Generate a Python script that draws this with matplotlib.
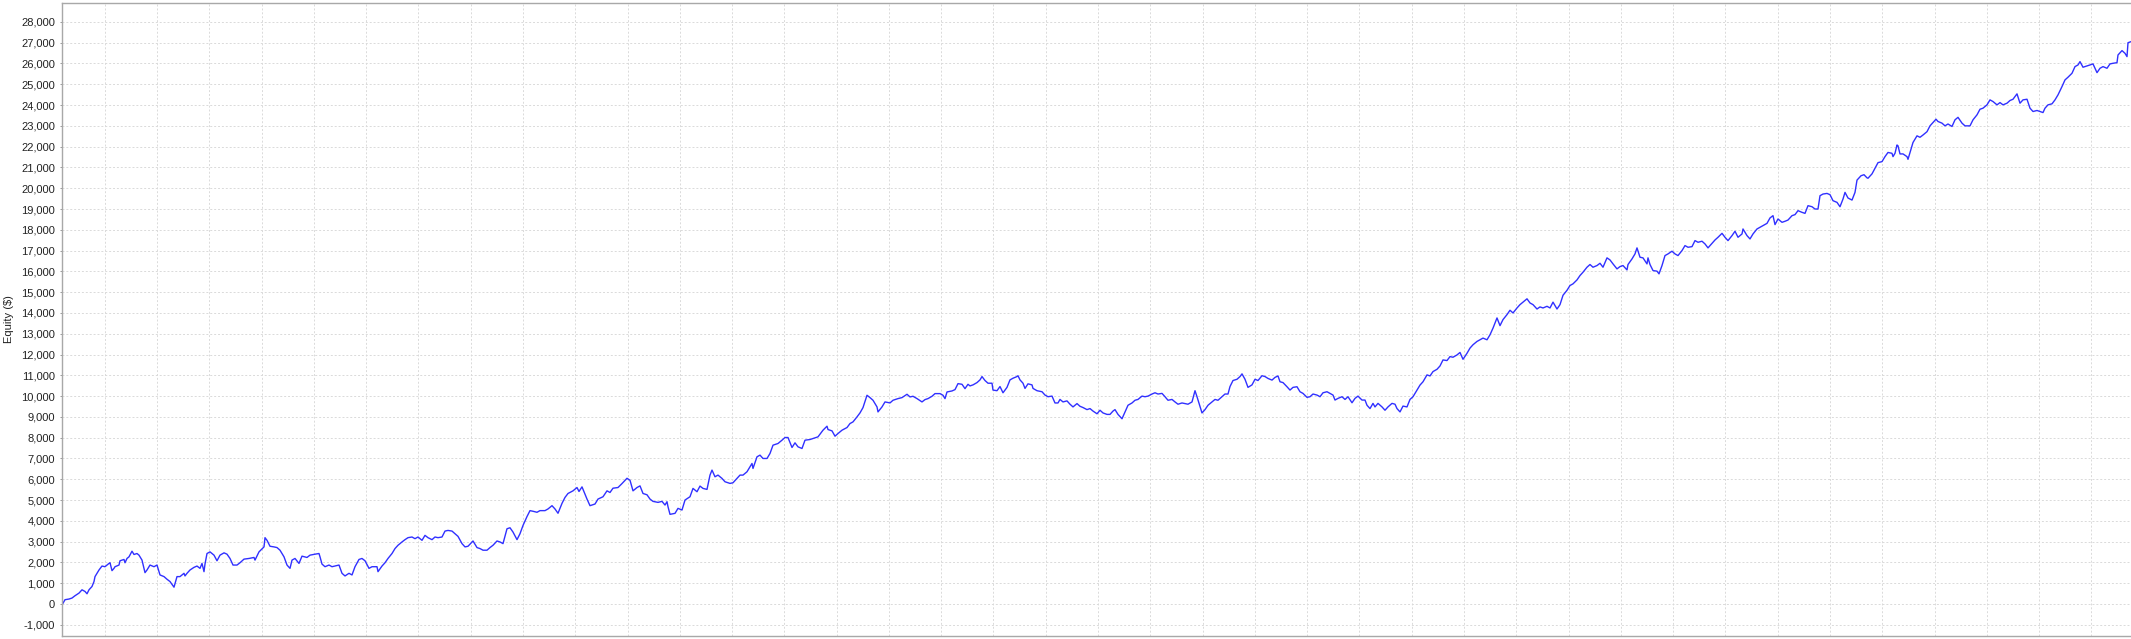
import matplotlib
matplotlib.use("Agg")
import matplotlib.pyplot as plt
import matplotlib.ticker as tkr
import numpy as np

# equity curve (trade number, equity in $)
trade_no = [
    0, 3, 7, 10, 13, 17, 20, 23, 25, 27, 30, 32, 33, 37, 40, 43, 47, 48, 50, 52,
    53, 57, 58, 62, 63, 65, 67, 70, 72, 75, 77, 80, 83, 85, 88, 92, 95, 98, 102, 105,
    108, 112, 115, 118, 122, 123, 125, 128, 132, 135, 138, 140, 142, 143, 145, 148, 152, 155, 158, 162,
    165, 168, 171, 175, 178, 182, 187, 192, 193, 197, 202, 203, 205, 208, 212, 215, 218, 222, 225, 228,
    230, 233, 237, 240, 245, 248, 253, 257, 258, 260, 263, 267, 270, 273, 277, 280, 283, 287, 290, 293,
    297, 300, 303, 307, 310, 315, 316, 320, 323, 326, 330, 333, 336, 340, 343, 346, 350, 353, 356, 360,
    363, 366, 370, 373, 376, 380, 383, 386, 390, 393, 396, 400, 403, 406, 411, 415, 418, 421, 425, 428,
    431, 435, 438, 441, 445, 448, 451, 455, 458, 461, 465, 468, 471, 475, 478, 483, 486, 490, 493, 496,
    500, 503, 506, 511, 515, 517, 520, 523, 525, 528, 533, 536, 541, 545, 548, 551, 556, 560, 565, 568,
    571, 575, 578, 581, 585, 588, 591, 596, 600, 603, 605, 606, 608, 613, 616, 620, 623, 628, 631, 635,
    638, 641, 645, 648, 650, 653, 656, 660, 663, 668, 671, 675, 678, 681, 685, 688, 690, 691, 695, 698,
    701, 705, 708, 711, 716, 720, 723, 726, 730, 733, 736, 740, 743, 748, 751, 756, 761, 765, 766, 770,
    773, 776, 780, 785, 788, 791, 795, 798, 801, 805, 808, 811, 815, 816, 820, 823, 828, 831, 836, 840,
    845, 848, 851, 855, 860, 863, 866, 870, 873, 878, 881, 883, 885, 890, 893, 896, 900, 903, 906, 908,
    911, 915, 918, 920, 923, 926, 930, 931, 935, 938, 941, 945, 948, 951, 955, 956, 958, 961, 963, 966,
    970, 971, 975, 980, 983, 986, 990, 993, 996, 998, 1001, 1005, 1008, 1011, 1015, 1018, 1021, 1025, 1028, 1031,
    1035, 1038, 1041, 1045, 1048, 1051, 1053, 1056, 1060, 1063, 1066, 1070, 1073, 1076, 1080, 1083, 1086, 1090, 1093, 1096,
    1100, 1103, 1106, 1110, 1113, 1116, 1120, 1123, 1126, 1130, 1133, 1135, 1138, 1140, 1143, 1146, 1150, 1153, 1156, 1160,
    1163, 1166, 1168, 1171, 1175, 1178, 1180, 1183, 1186, 1190, 1193, 1196, 1200, 1203, 1206, 1210, 1213, 1216, 1218, 1221,
    1225, 1228, 1231, 1235, 1238, 1241, 1245, 1248, 1251, 1255, 1258, 1261, 1265, 1268, 1271, 1273, 1276, 1280, 1283, 1286,
    1290, 1293, 1296, 1300, 1303, 1305, 1308, 1311, 1313, 1316, 1320, 1323, 1326, 1330, 1333, 1335, 1338, 1341, 1345, 1348,
    1351, 1355, 1358, 1361, 1365, 1368, 1371, 1375, 1378, 1381, 1385, 1388, 1391, 1395, 1398, 1401, 1405, 1408, 1411, 1415,
    1418, 1421, 1425, 1428, 1431, 1435, 1438, 1441, 1445, 1448, 1451, 1455, 1458, 1461, 1465, 1468, 1471, 1475, 1478, 1481,
    1485, 1488, 1491, 1495, 1498, 1501, 1505, 1508, 1511, 1515, 1518, 1521, 1525, 1528, 1531, 1535, 1538, 1541, 1545, 1548,
    1551, 1555, 1558, 1561, 1565, 1566, 1570, 1573, 1575, 1578, 1581, 1585, 1586, 1588, 1591, 1595, 1597, 1600, 1603, 1606,
    1610, 1613, 1616, 1620, 1623, 1626, 1630, 1633, 1636, 1640, 1643, 1646, 1650, 1653, 1656, 1660, 1663, 1666, 1670, 1673,
    1676, 1680, 1681, 1685, 1688, 1691, 1695, 1698, 1701, 1705, 1708, 1711, 1713, 1716, 1720, 1723, 1726, 1730, 1733, 1736,
    1740, 1743, 1746, 1750, 1753, 1756, 1758, 1761, 1765, 1768, 1771, 1775, 1778, 1781, 1783, 1786, 1790, 1793, 1795, 1799,
    1802, 1805, 1806, 1810, 1813, 1816, 1820, 1823, 1826, 1830, 1831, 1833, 1835, 1836, 1838, 1841, 1845, 1846, 1848, 1851,
    1855, 1858, 1861, 1865, 1868, 1871, 1874, 1876, 1880, 1883, 1886, 1890, 1893, 1896, 1900, 1903, 1908, 1911, 1915, 1918,
    1921, 1925, 1928, 1931, 1935, 1938, 1941, 1945, 1948, 1951, 1955, 1958, 1961, 1965, 1968, 1971, 1975, 1978, 1981, 1983,
    1986, 1990, 1993, 1996, 2000, 2003, 2006, 2010, 2013, 2016, 2018, 2021, 2025, 2028, 2031, 2035, 2038, 2041, 2045, 2048,
    2051, 2055, 2056, 2060, 2063, 2065, 2066, 2069,
]
equity = [
    -50, 206, 238, 286, 397, 524, 682, 603, 492, 682, 841, 1079, 1317, 1635, 1825, 1793, 1952, 1984, 1603, 1714,
    1793, 1873, 2079, 2142, 1984, 2190, 2269, 2539, 2381, 2428, 2349, 2111, 1508, 1635, 1873, 1793, 1873, 1397, 1317, 1190,
    1079, 809, 1317, 1317, 1476, 1349, 1476, 1635, 1762, 1825, 1714, 1952, 1555, 1920, 2428, 2507, 2349, 2079, 2349, 2460,
    2396, 2190, 1873, 1873, 1984, 2158, 2190, 2238, 2111, 2507, 2746, 3190, 3063, 2777, 2746, 2714, 2587, 2269, 1873, 1714,
    2111, 2190, 1952, 2301, 2238, 2349, 2396, 2428, 2269, 1920, 1793, 1873, 1793, 1825, 1873, 1476, 1349, 1476, 1397, 1793,
    2142, 2190, 2079, 1714, 1793, 1793, 1555, 1825, 1984, 2190, 2428, 2666, 2825, 2984, 3095, 3190, 3222, 3142, 3222, 3063,
    3301, 3190, 3095, 3222, 3190, 3222, 3507, 3539, 3507, 3380, 3253, 2904, 2746, 2777, 3031, 2714, 2666, 2587, 2587, 2714,
    2825, 3031, 2984, 2904, 3619, 3666, 3460, 3095, 3380, 3777, 4206, 4491, 4460, 4412, 4491, 4491, 4571, 4729, 4571, 4364,
    4840, 5126, 5316, 5443, 5602, 5412, 5634, 5285, 5047, 4729, 4809, 5047, 5158, 5443, 5364, 5570, 5602, 5793, 6047, 5952,
    5443, 5602, 5681, 5316, 5253, 5047, 4936, 4888, 4936, 4760, 4920, 4680, 4312, 4360, 4600, 4520, 5000, 5160, 5560, 5400,
    5672, 5560, 5512, 6200, 6440, 6120, 6200, 6040, 5880, 5800, 5832, 6040, 6200, 6200, 6360, 6600, 6760, 6520, 7080, 7160,
    7000, 7000, 7240, 7640, 7720, 7880, 8008, 8008, 7528, 7752, 7560, 7480, 7880, 7912, 7960, 8040, 8360, 8552, 8392, 8328,
    8072, 8200, 8360, 8488, 8680, 8760, 9000, 9192, 9448, 10040, 9928, 9800, 9480, 9240, 9480, 9720, 9672, 9800, 9880, 9928,
    10088, 9960, 9992, 9880, 9720, 9832, 9880, 9992, 10120, 10120, 10040, 9880, 10200, 10248, 10312, 10600, 10568, 10360, 10568, 10490,
    10540, 10650, 10780, 10940, 10750, 10620, 10620, 10290, 10260, 10460, 10160, 10420, 10780, 10860, 10940, 10980, 10780, 10620, 10370, 10590,
    10540, 10370, 10260, 10210, 10050, 9970, 10000, 9670, 9670, 9840, 9720, 9770, 9610, 9480, 9640, 9510, 9450, 9350, 9400, 9280,
    9150, 9320, 9190, 9120, 9120, 9280, 9350, 9120, 8910, 9240, 9560, 9670, 9800, 9840, 10000, 9970, 10000, 10100, 10160, 10100,
    10130, 9970, 9800, 9840, 9720, 9610, 9670, 9640, 9610, 9720, 10260, 9970, 9510, 9190, 9350, 9560, 9720, 9840, 9800, 9970,
    10100, 10100, 10460, 10750, 10810, 10940, 11070, 10810, 10420, 10540, 10810, 10750, 10980, 10940, 10850, 10770, 10900, 10970, 10690, 10650,
    10450, 10290, 10420, 10450, 10210, 10130, 9940, 9970, 10100, 10050, 9970, 10160, 10210, 10130, 10050, 9810, 9890, 9970, 9840, 9970,
    9680, 9890, 10000, 9810, 9810, 9560, 9400, 9650, 9480, 9650, 9480, 9320, 9480, 9650, 9610, 9400, 9240, 9520, 9480, 9840,
    9970, 10290, 10530, 10690, 11020, 10970, 11180, 11290, 11450, 11740, 11710, 11900, 11870, 11980, 12100, 11770, 12060, 12310, 12470, 12630,
    12710, 12790, 12710, 12950, 13270, 13760, 13390, 13680, 13920, 14130, 14000, 14240, 14400, 14520, 14680, 14480, 14400, 14190, 14290, 14240,
    14320, 14240, 14520, 14190, 14400, 14850, 15090, 15320, 15400, 15590, 15800, 15960, 16200, 16330, 16200, 16280, 16390, 16200, 16650, 16550,
    16360, 16120, 16230, 16280, 16070, 16330, 16600, 16840, 17130, 16680, 16650, 16360, 16650, 16330, 16040, 16010, 15880, 16280, 16760, 16840,
    16970, 16840, 16760, 17000, 17240, 17160, 17190, 17480, 17400, 17450, 17320, 17130, 17350, 17510, 17640, 17830, 17640, 17480, 17720, 17930,
    17640, 17800, 18040, 17720, 17560, 17800, 18040, 18120, 18200, 18310, 18570, 18680, 18250, 18520, 18360, 18410, 18470, 18680, 18730, 18920,
    18840, 18790, 19160, 19110, 19000, 19000, 19640, 19720, 19750, 19690, 19400, 19320, 19110, 19480, 19800, 19530, 19430, 19800, 20390, 20600,
    20650, 20500, 20480, 20690, 20960, 21230, 21280, 21520, 21720, 21680, 21520, 21680, 22080, 22040, 21650, 21650, 21520, 21390, 21720, 22200,
    22520, 22450, 22560, 22720, 23000, 23160, 23320, 23210, 23130, 23000, 23090, 22970, 23290, 23410, 23130, 23000, 23000, 23290, 23530, 23800,
    23850, 24010, 24250, 24170, 24010, 24120, 24010, 24090, 24220, 24280, 24540, 24090, 24250, 24280, 23850, 23690, 23740, 23690, 23640, 23850,
    24010, 24060, 24250, 24490, 24890, 25210, 25340, 25530, 25850, 25930, 26090, 25820, 25880, 25930, 25980, 25560, 25770, 25850, 25770, 25980,
    26010, 26040, 26410, 26620, 26490, 26330, 27000, 27050,
]

plt.rcParams['font.family'] = ['Liberation Sans', 'DejaVu Sans']

fig = plt.figure(figsize=(21.31, 6.39), dpi=100)
ax = fig.add_axes([62 / 2131, 3 / 639, 1 - 62 / 2131, 633 / 639])

ax.plot(trade_no, equity, color='#3030ff', linewidth=1.0)

ax.set_xlim(0, 2069)
ax.set_ylim(-1540, 28910)

ax.yaxis.set_major_locator(tkr.MultipleLocator(1000))
ax.yaxis.set_major_formatter(tkr.FuncFormatter(lambda v, p: "{:,}".format(int(v))))
ax.set_xticks(np.arange(42.7, 2069, 52.28))
ax.tick_params(axis='x', length=0, labelbottom=False)
ax.tick_params(axis='y', length=1.5, width=0.7, color='#999999', pad=3.5,
               labelsize=8, labelcolor='#222222')

ax.grid(True, color='#dadada', linestyle=(0, (2, 2)), linewidth=0.7)
ax.set_axisbelow(True)

for side in ['left', 'top', 'bottom']:
    ax.spines[side].set_color('#a8a8a8')
    ax.spines[side].set_linewidth(1.0)
ax.spines['right'].set_visible(False)

ax.set_ylabel("Equity ($)", fontsize=8, color='#222222', labelpad=5)

fig.savefig("out.png", dpi=100)
